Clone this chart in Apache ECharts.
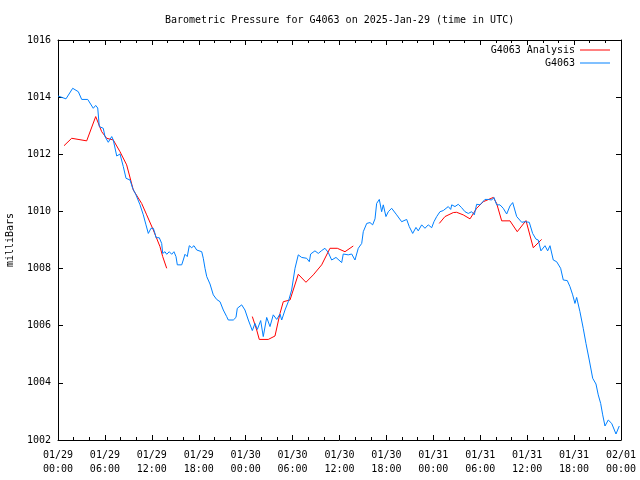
<!DOCTYPE html>
<html><head><meta charset="utf-8">
<script src="https://cdn.jsdelivr.net/npm/echarts@6/dist/echarts.min.js"></script>
<style>html,body{margin:0;padding:0;background:#fff}#c{width:640px;height:480px}</style>
</head><body><div id="c"></div>
<script>
// Hours since 2025-01-29 00:00 UTC
const stationHours = [0,1.02,1.88,2.60,3.03,3.80,4.51,4.82,5.08,5.28,5.79,6.01,6.43,6.87,7.07,7.51,7.93,8.35,8.70,9.21,9.55,9.97,10.49,10.91,11.25,11.55,11.89,12.19,12.40,12.53,12.95,13.26,13.39,13.68,13.90,14.23,14.54,14.83,15.09,15.26,15.82,16.02,16.24,16.53,16.79,17.10,17.39,17.74,17.94,18.38,18.58,18.80,19.02,19.44,19.86,20.29,20.72,21.14,21.57,21.78,22.42,22.76,22.93,23.49,23.91,24.34,24.85,25.19,25.49,25.92,26.25,26.69,27.11,27.53,27.97,28.39,28.61,29.03,29.45,29.88,30.31,30.73,31.16,31.80,32.14,32.31,32.86,33.29,33.72,34.14,34.57,35.00,35.55,36.28,36.48,37.12,37.56,37.98,38.40,38.84,39.04,39.48,39.90,40.24,40.54,40.75,41.09,41.39,41.60,41.94,42.24,42.67,43.31,43.95,44.59,44.92,45.36,45.78,46.07,46.51,46.93,47.35,47.79,48.08,48.43,48.85,49.27,49.91,50.22,50.35,50.77,51.19,51.62,52.05,52.47,52.90,53.24,53.54,53.96,54.60,55.03,55.46,55.75,56.10,56.52,56.94,57.38,57.80,58.15,58.66,59.30,59.72,60.27,60.70,61.13,61.42,61.76,62.28,62.62,62.92,63.34,63.77,64.28,64.62,65.13,65.47,65.82,66.11,66.33,66.75,67.17,67.52,67.94,68.38,68.80,69.09,69.40,69.66,69.95,70.37,70.81,71.36,71.52,71.78];
const stationMb = [1014.04,1013.94,1014.31,1014.19,1013.92,1013.92,1013.61,1013.71,1013.62,1012.97,1012.91,1012.62,1012.42,1012.62,1012.50,1011.94,1012.01,1011.57,1011.16,1011.10,1010.81,1010.58,1010.23,1009.88,1009.53,1009.23,1009.41,1009.41,1009.23,1009.08,1009.08,1008.88,1008.53,1008.59,1008.50,1008.59,1008.50,1008.59,1008.42,1008.13,1008.13,1008.30,1008.50,1008.42,1008.80,1008.73,1008.80,1008.65,1008.59,1008.59,1008.36,1008.01,1007.72,1007.46,1007.08,1006.92,1006.84,1006.55,1006.32,1006.20,1006.20,1006.29,1006.61,1006.73,1006.55,1006.20,1005.83,1006.08,1005.87,1006.18,1005.62,1006.29,1005.97,1006.38,1006.22,1006.41,1006.20,1006.55,1006.84,1007.25,1008.01,1008.48,1008.39,1008.36,1008.24,1008.51,1008.62,1008.53,1008.63,1008.71,1008.56,1008.30,1008.39,1008.21,1008.51,1008.48,1008.51,1008.30,1008.71,1008.88,1009.29,1009.58,1009.61,1009.53,1009.74,1010.28,1010.42,1009.99,1010.23,1009.82,1009.99,1010.11,1009.88,1009.64,1009.72,1009.47,1009.23,1009.44,1009.32,1009.53,1009.41,1009.53,1009.43,1009.64,1009.82,1009.99,1010.03,1010.17,1010.07,1010.23,1010.17,1010.25,1010.13,1009.99,1009.93,1009.99,1009.88,1010.25,1010.23,1010.42,1010.42,1010.40,1010.49,1010.23,1010.23,1010.11,1009.91,1010.19,1010.31,1009.82,1009.62,1009.64,1009.62,1009.23,1009.03,1009.00,1008.62,1008.80,1008.62,1008.80,1008.30,1008.24,1008.01,1007.60,1007.58,1007.37,1007.08,1006.78,1006.99,1006.49,1005.91,1005.38,1004.80,1004.16,1003.96,1003.58,1003.28,1002.88,1002.49,1002.70,1002.58,1002.21,1002.23,1002.49];

const analysisHours = [0.77,1.75,3.67,4.82,5.59,6.23,7.07,7.93,8.78,9.63,10.70,11.34,12.19,13.04,13.39,13.90, 19.0,
  24.85,25.41,25.74,26.89,27.75,28.39,28.81,29.67,30.73,31.71,32.65,33.72,34.78,35.72,36.70,37.76, 43.0,
  48.76,49.49,50.55,50.98,51.82,52.69,53.54,54.39,55.67,56.10,56.74,57.80,58.73,59.85,60.78,61.85];
const analysisMb = [1012.30,1012.56,1012.47,1013.32,1012.79,1012.56,1012.50,1012.09,1011.63,1010.75,1010.28,1009.88,1009.35,1008.77,1008.42,1008.01, null,
  1006.32,1005.85,1005.52,1005.52,1005.64,1006.43,1006.84,1006.90,1007.80,1007.52,1007.78,1008.13,1008.71,1008.71,1008.59,1008.79, null,
  1009.58,1009.82,1009.96,1009.97,1009.88,1009.74,1010.11,1010.34,1010.49,1010.28,1009.67,1009.67,1009.29,1009.68,1008.73,1009.02];

const xTickLabels = ['01/29\n00:00','01/29\n06:00','01/29\n12:00','01/29\n18:00','01/30\n00:00','01/30\n06:00','01/30\n12:00','01/30\n18:00','01/31\n00:00','01/31\n06:00','01/31\n12:00','01/31\n18:00','02/01\n00:00'];
const yTicks = [1002,1016,2];

const FONT = 'DejaVu Sans Mono';
const zip = (a,b) => a.map((x,i) => [x, b[i] === null ? '-' : b[i]]);

const chart = echarts.init(document.getElementById('c'), null, {renderer:'canvas'});
const baseX = {type:'value', min:0, max:72, interval:6,
  axisLine:{show:true, onZero:false, lineStyle:{color:'#000', width:1}},
  axisTick:{show:true, inside:true, length:5, lineStyle:{color:'#000'}},
  minorTick:{show:true, splitNumber:3, length:3, lineStyle:{color:'#000'}},
  splitLine:{show:false}};
const baseY = {type:'value', min:yTicks[0], max:yTicks[1], interval:yTicks[2],
  axisLine:{show:true, onZero:false, lineStyle:{color:'#000', width:1}},
  axisTick:{show:true, inside:true, length:5, lineStyle:{color:'#000'}},
  splitLine:{show:false}};
const legendCommon = {right:30, padding:0, align:'right', itemWidth:30, itemHeight:1, itemGap:6, icon:'rect',
  textStyle:{fontFamily:FONT, fontSize:10, color:'#000'}};
chart.setOption({
  animation:false,
  backgroundColor:'#fff',
  title:{text:'Barometric Pressure for G4063 on 2025-Jan-29 (time in UTC)', left:160, top:10,
    textStyle:{fontFamily:FONT, fontSize:10, fontWeight:'normal', color:'#000'}},
  grid:{left:58, right:19, top:40, bottom:40, containLabel:false, outerBoundsMode:'none'},
  legend:[
    Object.assign({data:['G4063 Analysis'], top:45}, legendCommon),
    Object.assign({data:['G4063'], top:58}, legendCommon)
  ],
  xAxis:[
    Object.assign({}, baseX, {position:'bottom',
      axisLabel:{fontFamily:FONT, fontSize:10, color:'#000', margin:8, lineHeight:14,
        formatter:(v)=> xTickLabels[Math.round(v/6)] || ''}}),
    Object.assign({}, baseX, {position:'top', axisLabel:{show:false}})
  ],
  yAxis:[
    Object.assign({}, baseY, {position:'left', name:'milliBars', nameLocation:'middle', nameGap:43,
      nameTextStyle:{fontFamily:FONT, fontSize:10, color:'#000'},
      axisLabel:{fontFamily:FONT, fontSize:10, color:'#000', margin:7, formatter:(v)=>String(v)}}),
    Object.assign({}, baseY, {position:'right', axisLabel:{show:false}})
  ],
  series:[
    {name:'G4063 Analysis', type:'line', data:zip(analysisHours, analysisMb), showSymbol:false, symbol:'none',
     connectNulls:false, lineStyle:{color:'#ff0000', width:1}, itemStyle:{color:'#ff0000'}},
    {name:'G4063', type:'line', data:zip(stationHours, stationMb), showSymbol:false, symbol:'none',
     lineStyle:{color:'#0080ff', width:1}, itemStyle:{color:'#0080ff'}}
  ]
});
</script></body></html>
